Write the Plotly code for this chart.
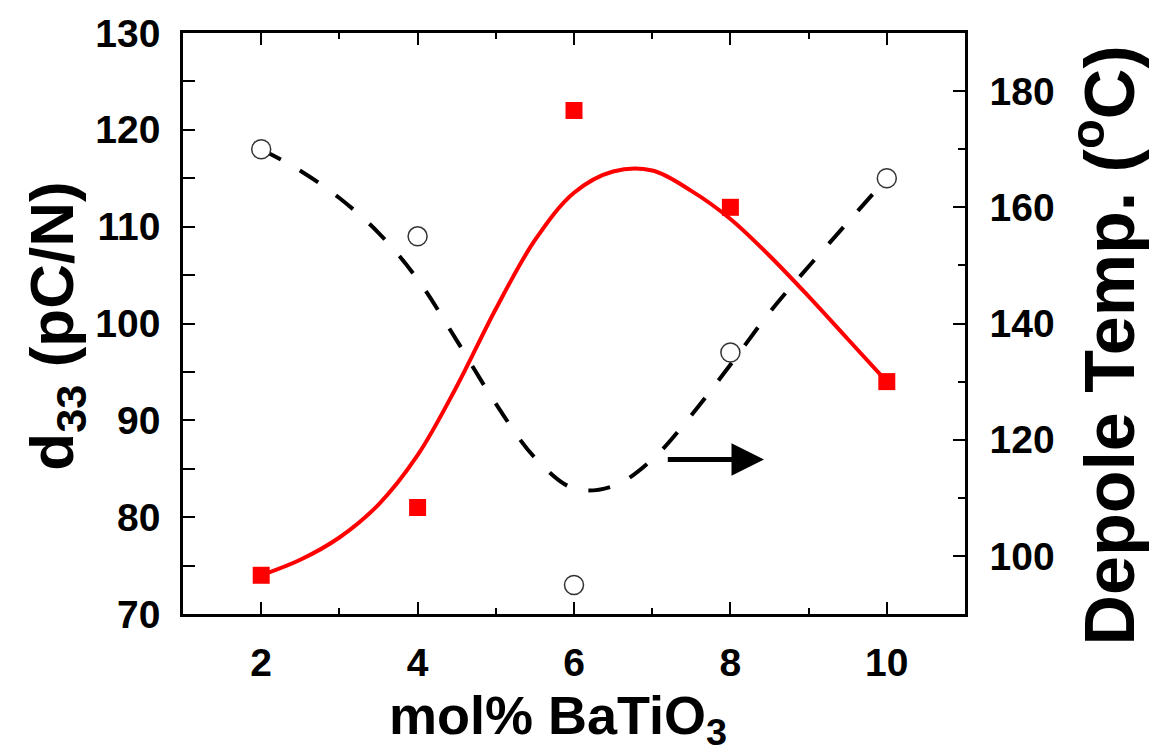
import plotly.graph_objects as go

# Measured points
mol_pct = [2, 4, 6, 8, 10]
d33 = [74, 81, 122, 112, 94]            # pC/N, left axis
depole_temp = [170, 155, 95, 135, 165]  # deg C, right axis

# Guide curves drawn through the data (sampled every 0.5 mol%)
curve_x = [2, 2.5, 3, 3.5, 4, 4.5, 5, 5.5, 6, 6.5, 7, 7.5, 8, 8.5, 9, 9.5, 10]
d33_curve = [74.0, 75.6, 77.9, 81.3, 86.4, 93.5, 101.5, 108.6, 113.5, 115.7,
             115.8, 113.7, 110.8, 107.0, 102.8, 98.4, 94.0]
temp_curve = [170, 166.3, 161.6, 155.6, 147.6, 137.1, 126.2, 116.9, 111.6, 112.0,
              116.6, 124.2, 132.9, 141.9, 149.8, 157.4, 165]

x_ticks = [2, 4, 6, 8, 10]
left_ticks = [70, 80, 90, 100, 110, 120, 130]
right_ticks = [100, 120, 140, 160, 180]

# Arrow marking the curve that belongs to the right axis
arrow_tail = (7.18, 116.6)
arrow_tip = (8.43, 116.6)

FONT = "Liberation Sans, Arial, sans-serif"
tick_font = dict(family=FONT, size=39, color="black", weight=700)

fig = go.Figure()

fig.add_trace(go.Scatter(
    x=curve_x, y=d33_curve, mode="lines", line=dict(color="#ff0000", width=4, shape="spline"),
    yaxis="y", showlegend=False, hoverinfo="skip"))
fig.add_trace(go.Scatter(
    x=mol_pct, y=d33, mode="markers",
    marker=dict(symbol="square", size=17, color="#ff0000", line=dict(width=0)),
    yaxis="y", showlegend=False))
fig.add_trace(go.Scatter(
    x=curve_x, y=temp_curve, mode="lines",
    line=dict(color="black", width=4, dash="22px,22px", shape="spline"),
    yaxis="y2", showlegend=False, hoverinfo="skip"))
fig.add_trace(go.Scatter(
    x=mol_pct, y=depole_temp, mode="markers",
    marker=dict(symbol="circle", size=19, color="white", line=dict(width=1.5, color="#333333")),
    yaxis="y2", showlegend=False))

axis_common = dict(showline=True, linecolor="black", linewidth=2.5, ticks="inside",
                   tickcolor="black", tickwidth=2, showgrid=False, zeroline=False,
                   tickfont=tick_font)

fig.update_layout(
    width=1151, height=752,
    margin=dict(l=183, r=186, t=30, b=138),
    paper_bgcolor="white", plot_bgcolor="white",
    xaxis=dict(range=[1, 11], tickvals=x_ticks, ticklen=12, mirror="ticks",
               minor=dict(dtick=1, ticklen=6, tickwidth=2, tickcolor="black", ticks="inside"),
               ticklabelstandoff=12, **axis_common),
    yaxis=dict(range=[70, 130], tickvals=left_ticks, ticklen=12, mirror=True,
               minor=dict(dtick=5, ticklen=12, tickwidth=2, tickcolor="black", ticks="inside"),
               ticklabelstandoff=12, **axis_common),
    yaxis2=dict(range=[90, 190], tickvals=right_ticks, ticklen=12, overlaying="y", side="right",
                minor=dict(dtick=10, ticklen=7, tickwidth=2, tickcolor="black", ticks="inside"),
                ticklabelstandoff=14, **axis_common),
)

title_font = dict(family=FONT, color="black", weight=700)
fig.add_annotation(text="mol% BaTiO<sub>3</sub>", xref="paper", yref="paper",
                   x=0.48, y=-0.118, xanchor="center", yanchor="top", showarrow=False,
                   font=dict(size=54, **title_font))
fig.add_annotation(text="d<sub>33</sub> (pC/N)", xref="paper", yref="paper",
                   x=-0.162, y=0.495, xanchor="center", yanchor="middle", textangle=-90,
                   showarrow=False, font=dict(size=62, **title_font))
fig.add_annotation(text="Depole Temp. (<sup>o</sup>C)", xref="paper", yref="paper",
                   x=1.2366, y=0.462, xanchor="right", yanchor="middle", textangle=-90,
                   showarrow=False, font=dict(size=70, **title_font))

fig.add_annotation(x=arrow_tip[0], y=arrow_tip[1], xref="x", yref="y2",
                   ax=arrow_tail[0], ay=arrow_tail[1], axref="x", ayref="y2",
                   text="", showarrow=True, arrowhead=2, arrowsize=1.3, arrowwidth=5,
                   arrowcolor="black")

fig.write_html("out.html")
